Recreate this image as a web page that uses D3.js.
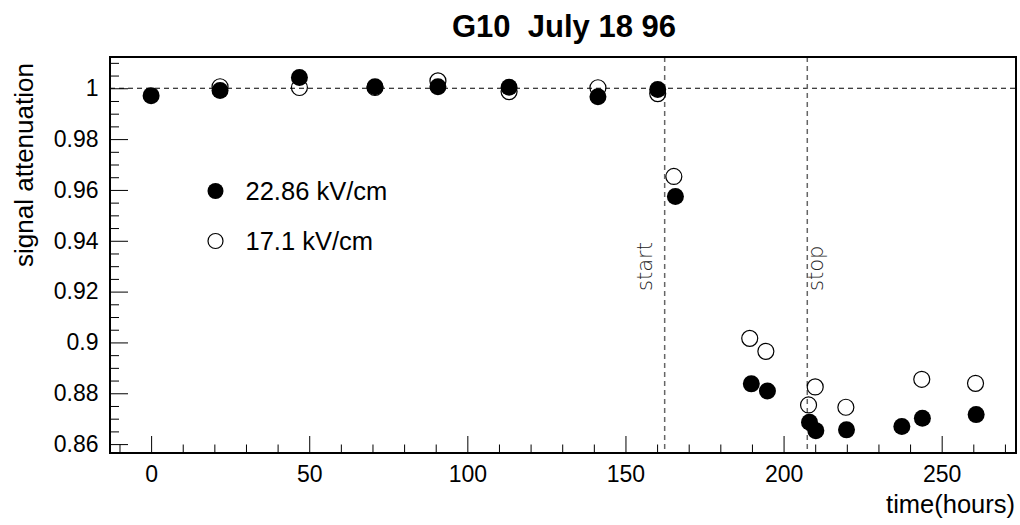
<!DOCTYPE html>
<html>
<head>
<meta charset="utf-8">
<script src="https://d3js.org/d3.v7.min.js"></script>
<style>
  body { margin: 0; background: #fff; }
  svg { display: block; }
</style>
</head>
<body>
<script>
var margin = {left: 110, right: 4, top: 57, bottom: 72};
var width = 1020 - margin.left - margin.right;
var height = 525 - margin.top - margin.bottom;
var font = "'Liberation Sans', Arial, sans-serif";

//data: time in hours and signal attenuation
var hours22 = [0, 21.8, 46.9, 70.8, 90.7, 113.2, 141.3, 160.2, 165.8, 189.8, 194.9, 208.2, 210.2, 219.9, 237.4, 243.9, 260.9];
var att22 = [0.9971, 0.9991, 1.0042, 1.0006, 1.0006, 1.0004, 0.9967, 0.9995, 0.9574, 0.8837, 0.8809, 0.8686, 0.8653, 0.8656, 0.8669, 0.8702, 0.8716];

var hours17 = [21.8, 46.9, 70.8, 90.7, 113.2, 141.3, 160.2, 165.3, 189.3, 194.4, 207.9, 210.0, 219.7, 243.7, 260.7];
var att17 = [1.0006, 1.0003, 1.0003, 1.0029, 0.9987, 1.0002, 0.9979, 0.9653, 0.9016, 0.8965, 0.8754, 0.8825, 0.8745, 0.8855, 0.8839];

var seriesNames = ["22.86 kV/cm", "17.1 kV/cm"];
var markerTimes = [162.4, 207.5];
var markerNames = ["start", "stop"];

var xTicks = [0, 50, 100, 150, 200, 250];
var yTicks = [0.86, 0.88, 0.9, 0.92, 0.94, 0.96, 0.98, 1];

var title = "G10  July 18 96";

//scales
var xScale = d3.scaleLinear()
               .domain([-13, 273.5])
               .range([0, width]);

var yScale = d3.scaleLinear()
               .domain([0.8565, 1.0123])
               .range([height, 0]);

//minor ticks every 10 hours and every 0.005
var xMinor = d3.range(-10, 271, 10).filter(function(d){ return xTicks.indexOf(d) < 0; });
var yMinor = d3.range(0, 31).map(function(i){ return +(0.86 + i * 0.005).toFixed(3); })
               .filter(function(d){ return yTicks.indexOf(d) < 0; });

var _svg = d3.select("body")
             .append("svg")
             .attr("width", 1020)
             .attr("height", 525);

var plot = _svg.append("g")
               .attr("transform", "translate(" + margin.left + "," + margin.top + ")");

//reference line at 1
plot.append("line")
    .attr("x1", 0)
    .attr("x2", width)
    .attr("y1", yScale(1))
    .attr("y2", yScale(1))
    .attr("stroke", "#000")
    .attr("stroke-width", 1)
    .attr("stroke-dasharray", "5,4");

//start / stop lines
plot.selectAll(".marker")
    .data(markerTimes)
    .enter()
    .append("line")
    .attr("class", "marker")
    .attr("x1", function(d){ return xScale(d); })
    .attr("x2", function(d){ return xScale(d); })
    .attr("y1", 0)
    .attr("y2", height)
    .attr("stroke", "#666")
    .attr("stroke-width", 1.5)
    .attr("stroke-dasharray", "5,4");

plot.selectAll(".markerText")
    .data(markerTimes)
    .enter()
    .append("text")
    .attr("class", "markerText")
    .attr("transform", function(d, i){
        var x = xScale(d) + (i == 0 ? -13 : 16);
        return "translate(" + x + "," + 234 + ") rotate(-90)";
    })
    .attr("font-family", "'DejaVu Sans', sans-serif")
    .attr("font-weight", 200)
    .attr("font-size", 21)
    .attr("fill", "#222")
    .text(function(d, i){ return markerNames[i]; });

//x axis, major and minor ticks pointing inward
plot.append("g")
    .attr("transform", "translate(0," + height + ")")
    .call(d3.axisBottom(xScale).tickValues(xMinor).tickSize(-8.5).tickFormat(""))
    .call(function(g){ g.select(".domain").remove(); });

plot.append("g")
    .attr("transform", "translate(0," + height + ")")
    .call(d3.axisBottom(xScale).tickValues(xTicks).tickSize(-17).tickPadding(13))
    .call(function(g){ g.select(".domain").remove(); })
    .selectAll("text")
    .attr("font-family", font)
    .attr("font-size", 23)
    .attr("fill", "#000");

//y axis
plot.append("g")
    .call(d3.axisLeft(yScale).tickValues(yMinor).tickSize(-9).tickFormat(""))
    .call(function(g){ g.select(".domain").remove(); });

plot.append("g")
    .call(d3.axisLeft(yScale).tickValues(yTicks).tickSize(-18).tickPadding(11.5)
            .tickFormat(function(d){ return String(d); }))
    .call(function(g){ g.select(".domain").remove(); })
    .selectAll("text")
    .attr("font-family", font)
    .attr("font-size", 23)
    .attr("fill", "#000");

plot.selectAll(".tick line")
    .attr("stroke", "#000")
    .attr("stroke-width", 1);

//open circles first, filled ones on top
plot.append("g")
    .selectAll("circle")
    .data(hours17)
    .enter()
    .append("circle")
    .attr("cx", function(d){ return xScale(d); })
    .attr("cy", function(d, i){ return yScale(att17[i]); })
    .attr("r", 8)
    .attr("fill", "none")
    .attr("stroke", "#000")
    .attr("stroke-width", 1.2);

plot.append("g")
    .selectAll("circle")
    .data(hours22)
    .enter()
    .append("circle")
    .attr("cx", function(d){ return xScale(d); })
    .attr("cy", function(d, i){ return yScale(att22[i]); })
    .attr("r", 8.5)
    .attr("fill", "#000");

//frame
plot.append("rect")
    .attr("x", 0)
    .attr("y", 0)
    .attr("width", width)
    .attr("height", height)
    .attr("fill", "none")
    .attr("stroke", "#000")
    .attr("stroke-width", 2);

//legend
var legend = _svg.append("g");

legend.selectAll("circle")
      .data(seriesNames)
      .enter()
      .append("circle")
      .attr("cx", 215.5)
      .attr("cy", function(d, i){ return 191 + i * 50; })
      .attr("r", function(d, i){ return i == 0 ? 8 : 7.5; })
      .attr("fill", function(d, i){ return i == 0 ? "#000" : "none"; })
      .attr("stroke", "#000")
      .attr("stroke-width", function(d, i){ return i == 0 ? 0 : 1.2; });

legend.selectAll("text")
      .data(seriesNames)
      .enter()
      .append("text")
      .attr("x", 245.5)
      .attr("y", function(d, i){ return 199.5 + i * 50.5; })
      .attr("font-family", font)
      .attr("font-size", 25.5)
      .text(function(d){ return d; });

//title and axis labels
_svg.append("text")
    .attr("x", 564)
    .attr("y", 36.5)
    .attr("text-anchor", "middle")
    .attr("font-family", font)
    .attr("font-weight", "bold")
    .attr("font-size", 31)
    .style("white-space", "pre")
    .text(title);

_svg.append("text")
    .attr("x", 1015)
    .attr("y", 513)
    .attr("text-anchor", "end")
    .attr("font-family", font)
    .attr("font-size", 25.5)
    .text("time(hours)");

_svg.append("text")
    .attr("transform", "translate(33,165) rotate(-90)")
    .attr("text-anchor", "middle")
    .attr("font-family", font)
    .attr("font-size", 26)
    .text("signal attenuation");
</script>
</body>
</html>
